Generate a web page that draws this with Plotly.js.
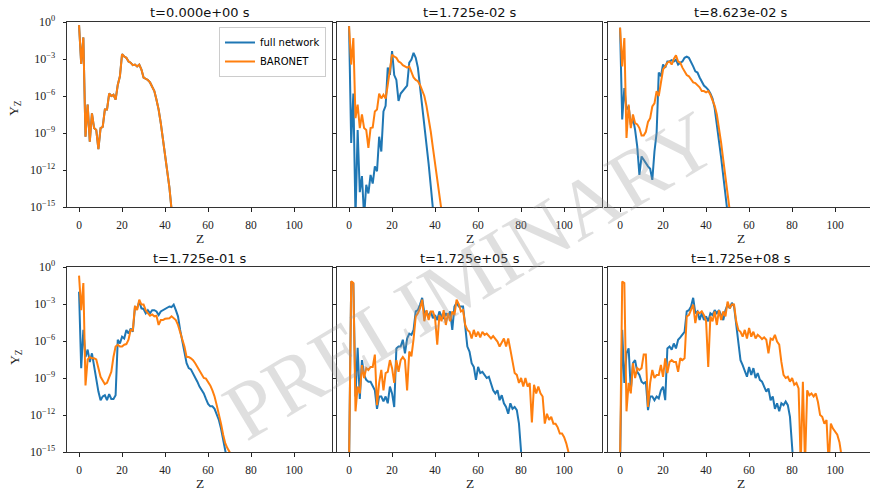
<!DOCTYPE html>
<html>
<head>
<meta charset="utf-8">
<script src="https://cdn.plot.ly/plotly-3.0.1.min.js"></script>
<style>
html,body{margin:0;padding:0;overflow:hidden;background:#fff;}
#chart{width:880px;height:490px;}
</style>
</head>
<body>
<div id="chart"></div>
<script>
// ---- Data: log10 of abundance Y_Z for Z = 0,1,2,... ----
const panelTitles = ["t=0.000e+00 s", "t=1.725e-02 s", "t=8.623e-02 s",
                     "t=1.725e-01 s", "t=1.725e+05 s", "t=1.725e+08 s"];
const seriesNames = ["full network", "BARONET"];
const xTickVals = [0, 20, 40, 60, 80, 100];
const yTickVals = [1e-15, 1e-12, 1e-9, 1e-6, 1e-3, 1];
const yTickText = ["10<sup>−15</sup>", "10<sup>−12</sup>", "10<sup>−9</sup>", "10<sup>−6</sup>", "10<sup>−3</sup>", "10<sup>0</sup>"];

const full_t0 = [-0.25,-3.4,-1.25,-9.3,-6.7,-9.7,-7.4,-8.6,-8.75,-10.3,-8.6,-8.5,-7.1,-7.1,-5.8,-6.0,-5.9,-6.3,-5.1,-4.4,-2.6,-2.8,-2.9,-3.2,-3.3,-3.5,-3.45,-3.6,-3.45,-3.85,-4.5,-4.6,-4.7,-4.9,-5.2,-5.6,-6.3,-7.1,-8.2,-9.4,-10.7,-12.0,-13.4,-15.2];
const baronet_t0 = [-0.25,-3.4,-1.25,-9.3,-6.7,-9.7,-7.4,-8.6,-8.75,-10.3,-8.6,-8.5,-7.1,-7.1,-5.8,-6.0,-5.9,-6.3,-5.1,-4.4,-2.6,-2.8,-2.9,-3.2,-3.3,-3.5,-3.45,-3.6,-3.45,-3.85,-4.5,-4.6,-4.7,-4.9,-5.2,-5.6,-6.3,-7.1,-8.2,-9.4,-10.7,-12.0,-13.4,-15.2];

const full_t1 = [-0.33,-9.8,-5.8,-15.8,-8.75,-13.8,-12.5,-15.8,-13.2,-13.9,-12.4,-13.1,-11.7,-12.1,-9.3,-10.5,-7.25,-6.8,-3.7,-4.3,-2.35,-4.3,-4.7,-6.4,-5.8,-5.6,-5.35,-5.15,-3.3,-3.05,-2.5,-2.9,-3.7,-5.2,-6.6,-8.1,-9.8,-11.5,-13.3,-15.2,-17.0];
const baronet_t1 = [-0.33,-3.45,-1.3,-7.8,-6.7,-8.6,-7.5,-8.6,-8.75,-10.2,-8.6,-8.55,-7.25,-7.1,-5.8,-6.2,-5.9,-6.2,-5.1,-4.0,-2.65,-2.8,-2.9,-3.2,-3.3,-3.5,-3.6,-3.7,-3.6,-4.0,-4.5,-4.7,-4.8,-5.1,-5.5,-6.0,-6.8,-7.8,-8.9,-10.2,-11.5,-12.8,-14.2,-15.3];

const full_t2 = [-0.46,-7.9,-5.35,-7.1,-6.85,-8.35,-7.8,-8.75,-10.1,-12.4,-10.9,-11.2,-11.5,-11.7,-11.9,-12.8,-10.5,-9.0,-4.1,-4.4,-3.45,-3.7,-3.2,-3.2,-3.1,-3.2,-3.05,-3.45,-3.3,-3.2,-2.9,-2.8,-2.9,-3.2,-3.6,-4.0,-4.1,-4.5,-4.8,-5.15,-5.3,-5.5,-5.8,-6.2,-7.0,-8.2,-9.6,-11.0,-12.5,-14.0,-15.6,-17.0];
const baronet_t2 = [-0.46,-3.6,-1.3,-9.4,-6.7,-8.6,-7.5,-8.2,-8.3,-8.6,-9.2,-9.2,-8.9,-8.1,-7.8,-6.85,-6.6,-5.6,-6.0,-4.9,-3.85,-3.6,-3.3,-3.2,-3.45,-3.0,-2.7,-3.2,-3.3,-3.7,-4.0,-4.3,-4.4,-4.7,-4.9,-4.95,-5.15,-5.3,-5.6,-5.6,-5.7,-5.6,-5.9,-6.3,-6.8,-7.5,-8.6,-9.8,-11.2,-12.6,-14.0,-15.3];

const full_t3 = [-2.0,-8.2,-5.1,-7.3,-6.7,-7.7,-7.0,-8.1,-9.0,-10.1,-10.8,-10.5,-10.4,-10.8,-10.3,-10.7,-10.7,-10.4,-5.9,-6.2,-5.65,-5.8,-5.1,-5.4,-5.0,-5.25,-3.25,-3.35,-2.8,-3.35,-3.4,-3.75,-3.5,-3.75,-3.5,-3.5,-3.6,-3.9,-3.6,-3.5,-3.4,-3.25,-3.2,-3.25,-3.05,-3.5,-4.0,-5.1,-5.9,-6.9,-7.8,-8.2,-8.3,-8.6,-8.9,-9.3,-9.7,-10.0,-10.25,-10.7,-11.1,-11.3,-11.3,-11.5,-11.9,-12.4,-13.1,-13.9,-14.9,-15.8];
const baronet_t3 = [-0.7,-3.5,-1.3,-9.6,-7.5,-7.3,-7.4,-7.4,-7.5,-8.1,-8.9,-9.2,-9.5,-9.4,-8.9,-8.5,-7.3,-6.45,-6.3,-6.45,-6.45,-6.3,-6.25,-5.9,-5.1,-5.15,-3.15,-3.5,-2.65,-3.05,-3.05,-3.5,-3.75,-3.95,-3.85,-4.0,-3.95,-4.7,-4.3,-4.3,-4.2,-4.15,-4.15,-4.0,-4.15,-4.3,-4.7,-5.25,-5.9,-6.45,-7.3,-7.3,-7.4,-7.55,-7.8,-8.1,-8.4,-8.7,-9.0,-9.05,-9.3,-9.6,-10.0,-10.5,-11.2,-11.9,-12.7,-13.6,-14.3,-14.7,-15.0,-15.6];

const full_t4 = [-16.0,-1.2,-1.35,-10.5,-6.55,-10.7,-7.55,-8.75,-9.15,-9.3,-9.3,-9.7,-10.0,-11.5,-10.5,-10.5,-10.9,-10.5,-11.05,-9.7,-10.25,-11.35,-6.6,-6.45,-6.45,-5.9,-7.0,-5.8,-5.4,-5.5,-5.1,-3.6,-3.5,-3.05,-2.5,-3.75,-3.6,-4.0,-3.6,-4.15,-3.9,-4.3,-3.6,-4.0,-4.15,-3.75,-4.0,-3.6,-5.1,-3.2,-2.9,-3.2,-3.2,-3.2,-4.8,-6.45,-6.85,-7.8,-8.1,-9.15,-8.1,-8.6,-8.5,-8.75,-9.0,-8.9,-9.45,-10.0,-10.25,-10.0,-10.8,-10.4,-11.05,-11.35,-11.9,-11.05,-11.5,-11.35,-11.6,-12.7,-15.0,-17.0];
const baronet_t4 = [-16.0,-1.15,-1.3,-11.7,-9.7,-10.25,-7.95,-9.0,-8.2,-8.35,-8.1,-8.1,-7.1,-11.2,-9.4,-8.35,-10.0,-8.6,-8.5,-7.55,-8.2,-9.4,-7.55,-8.5,-7.55,-7.3,-7.55,-10.0,-6.85,-7.25,-5.85,-4.0,-3.75,-3.35,-2.65,-4.4,-3.5,-4.3,-3.6,-3.6,-4.15,-6.3,-3.9,-4.4,-3.5,-4.7,-3.75,-4.4,-3.6,-3.9,-2.65,-3.0,-3.6,-3.5,-4.7,-5.1,-5.25,-5.8,-5.1,-5.65,-5.25,-5.7,-5.25,-5.5,-5.4,-5.6,-5.8,-5.6,-5.85,-6.05,-6.45,-6.05,-5.8,-6.45,-5.8,-6.7,-7.55,-8.6,-8.75,-9.4,-9.0,-9.7,-9.0,-9.7,-9.4,-12.6,-9.55,-10.25,-9.7,-10.25,-10.5,-12.7,-11.9,-12.4,-12.15,-12.7,-12.7,-13.0,-13.5,-13.5,-13.8,-14.3,-15.0,-16.5];

const full_t5 = [-16.0,-5.1,-9.4,-7.0,-6.6,-10.0,-7.8,-7.55,-8.5,-8.75,-9.3,-9.45,-9.3,-11.6,-10.5,-10.5,-10.8,-10.5,-10.65,-10.0,-9.7,-10.8,-6.6,-6.45,-6.7,-6.2,-6.6,-5.9,-5.7,-5.5,-5.25,-3.6,-3.5,-3.2,-2.5,-3.75,-3.6,-4.3,-3.75,-4.3,-4.0,-4.4,-3.75,-3.9,-3.5,-3.75,-3.5,-3.9,-4.3,-3.5,-3.05,-3.35,-2.9,-3.2,-4.7,-6.45,-7.55,-7.95,-8.35,-8.9,-8.1,-8.75,-8.2,-9.0,-8.6,-9.15,-9.3,-9.7,-10.1,-9.85,-10.8,-10.5,-11.5,-11.05,-11.7,-11.05,-11.2,-10.9,-11.2,-12.15,-14.2,-17.0];
const baronet_t5 = [-16.0,-1.17,-1.3,-11.7,-9.4,-10.25,-7.8,-9.0,-8.2,-8.35,-8.2,-7.1,-7.1,-11.35,-9.4,-8.35,-9.0,-8.75,-8.75,-7.95,-8.9,-7.4,-8.6,-7.7,-7.55,-7.7,-7.7,-8.5,-7.4,-7.55,-7.4,-4.0,-3.9,-3.5,-3.05,-4.55,-3.6,-3.75,-3.6,-3.9,-4.4,-8.1,-4.0,-4.4,-3.6,-4.7,-3.5,-4.3,-3.6,-4.0,-2.8,-3.35,-3.05,-3.05,-4.4,-5.1,-5.25,-5.65,-5.1,-5.8,-4.95,-5.65,-5.25,-5.8,-5.5,-5.65,-5.85,-5.7,-5.9,-7.0,-5.8,-5.9,-5.5,-6.05,-6.3,-7.7,-8.75,-9.0,-8.9,-9.3,-9.0,-9.55,-9.4,-9.85,-16.0,-9.3,-16.0,-10.0,-10.4,-10.25,-10.5,-10.25,-10.95,-12.0,-12.15,-12.7,-12.4,-16.0,-12.7,-13.1,-13.4,-13.6,-14.2,-15.1,-16.5];

const fullSets = [full_t0, full_t1, full_t2, full_t3, full_t4, full_t5];
const baronetSets = [baronet_t0, baronet_t1, baronet_t2, baronet_t3, baronet_t4, baronet_t5];

// ---- Layout geometry (paper is 880 wide; window crops at 870) ----
const W = 880, H = 490;
const colPx = [[67, 332], [337, 602], [608, 873]];
const rowPx = [[22, 207], [267, 452]];
const colors = ["#1f77b4", "#ff7f0e"];
const serif = "Liberation Serif, DejaVu Serif, serif";
const sans = "DejaVu Sans, Verdana, sans-serif";

const toLin = arr => arr.map(v => Math.pow(10, v));

const traces = [];
const layout = {
  width: W, height: H,
  margin: {l: 0, r: 0, t: 0, b: 0},
  paper_bgcolor: "#fff", plot_bgcolor: "#fff",
  showlegend: true,
  legend: {
    x: 326 / W, y: 1 - 27 / H, xanchor: "right", yanchor: "top",
    bgcolor: "rgba(255,255,255,0.8)", bordercolor: "#cccccc", borderwidth: 1,
    font: {family: sans, size: 10, color: "#000"},
    tracegroupgap: 0, itemwidth: 30
  },
  annotations: [],
  font: {family: serif, color: "#000"}
};

for (let i = 0; i < 6; i++) {
  const r = Math.floor(i / 3), c = i % 3;
  const n = i + 1;
  const xa = "x" + (n === 1 ? "" : n), ya = "y" + (n === 1 ? "" : n);
  const xKey = "xaxis" + (n === 1 ? "" : n), yKey = "yaxis" + (n === 1 ? "" : n);
  const xd = [colPx[c][0] / W, colPx[c][1] / W];
  const yd = [1 - rowPx[r][1] / H, 1 - rowPx[r][0] / H];
  layout[xKey] = {
    domain: xd, anchor: ya, range: [-5.6, 117.6],
    tickvals: xTickVals, ticktext: xTickVals.map(String),
    ticks: "outside", ticklen: 3.5, tickwidth: 1, tickcolor: "#222",
    showline: true, mirror: true, linecolor: "#333", linewidth: 1,
    showgrid: false, zeroline: false,
    tickfont: {family: serif, size: 11.5, color: "#222"},
    ticklabelstandoff: 4
  };
  layout[yKey] = {
    domain: yd, anchor: xa, type: "log", range: [-15, 0],
    tickvals: yTickVals, ticktext: yTickText,
    showticklabels: c === 0,
    ticks: "outside", ticklen: 3.5, tickwidth: 1, tickcolor: "#222",
    showline: true, mirror: true, linecolor: "#333", linewidth: 1,
    showgrid: false, zeroline: false,
    tickfont: {family: serif, size: 12, color: "#222"},
    ticklabelstandoff: 5
  };
  const sets = [fullSets[i], baronetSets[i]];
  for (let s = 0; s < 2; s++) {
    traces.push({
      type: "scatter", mode: "lines",
      x0: 0, dx: 1, y: toLin(sets[s]),
      xaxis: xa, yaxis: ya,
      name: seriesNames[s],
      showlegend: i === 0,
      line: {color: colors[s], width: 2}
    });
  }
  const cx = (colPx[c][0] + colPx[c][1]) / 2 / W;
  // subplot title
  layout.annotations.push({
    text: panelTitles[i], xref: "paper", yref: "paper",
    x: cx, y: 1 - (r === 0 ? 13 : 258) / H, xanchor: "center", yanchor: "middle",
    showarrow: false, font: {family: sans, size: 13, color: "#111"}
  });
  // x axis title
  layout.annotations.push({
    text: "Z", xref: "paper", yref: "paper",
    x: cx, y: 1 - (r === 0 ? 238 : 483) / H, xanchor: "center", yanchor: "middle",
    showarrow: false, font: {family: serif, size: 13.5, color: "#222"}
  });
  if (c === 0) {
    layout.annotations.push({
      text: "Y<sub>Z</sub>", xref: "paper", yref: "paper",
      x: 15 / W, y: 1 - (r === 0 ? 108 : 357) / H, xanchor: "center", yanchor: "middle",
      textangle: -90, showarrow: false, font: {family: serif, size: 13.5, color: "#222"}
    });
  }
}

// watermark
layout.annotations.push({
  text: "PRELIMINARY", xref: "paper", yref: "paper",
  x: 470 / W, y: 1 - 275 / H, xanchor: "center", yanchor: "middle",
  textangle: -31, showarrow: false,
  font: {family: serif, size: 82, color: "rgba(150,150,150,0.3)"}
});

Plotly.newPlot("chart", traces, layout, {staticPlot: true, displayModeBar: false});
</script>
</body>
</html>
